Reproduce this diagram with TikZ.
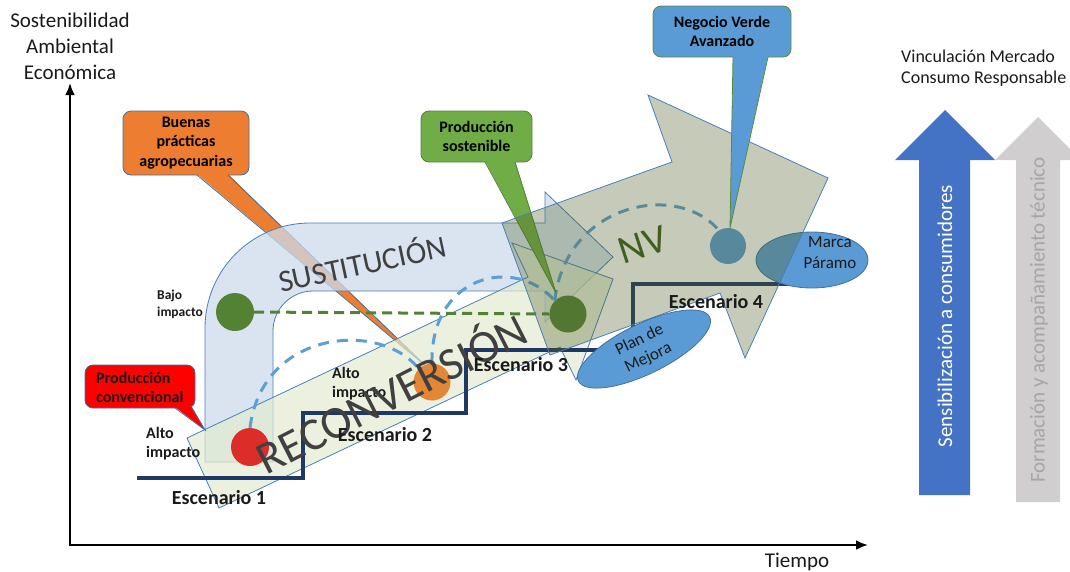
\documentclass[tikz,border=0pt]{standalone}
\usepackage{fontspec}
\setmainfont{Carlito}
\usetikzlibrary{arrows.meta,shapes.geometric}

\definecolor{navy}{RGB}{31,56,100}
\definecolor{sustfill}{RGB}{205,219,236}
\definecolor{reconfill}{RGB}{226,235,208}
\definecolor{nvfill}{RGB}{79,98,40}
\definecolor{shapeborder}{RGB}{74,126,187}
\definecolor{callborder}{RGB}{65,113,156}
\definecolor{orangeC}{RGB}{237,125,49}
\definecolor{greenC}{RGB}{112,173,71}
\definecolor{greenB}{RGB}{84,130,53}
\definecolor{blueC}{RGB}{91,155,213}
\definecolor{redC}{RGB}{255,0,0}
\definecolor{dashblue}{RGB}{91,160,213}
\definecolor{dgreen}{RGB}{84,130,53}
\definecolor{arrowblue}{RGB}{68,114,196}
\definecolor{arrowgray}{RGB}{208,206,206}
\definecolor{graytext}{RGB}{166,166,166}
\definecolor{shapetxt}{RGB}{64,64,64}
\definecolor{txtdark}{RGB}{26,26,26}
\definecolor{redcirc}{RGB}{220,45,40}
\definecolor{orcirc}{RGB}{227,135,55}
\definecolor{nvtext}{RGB}{63,95,31}

\begin{document}
\begin{tikzpicture}[x=1pt,y=-1pt,
  axisline/.style={line width=2.6pt, {Latex[length=12pt,width=10pt]}-{Latex[length=12pt,width=10pt]}},
  stair/.style={draw=navy, line width=4pt},
  bigshape/.style={draw=shapeborder, line width=0.8pt},
  dot/.style={circle, inner sep=0pt, minimum size=#1},
  dashg/.style={draw=dgreen, line width=3pt, dash pattern=on 10pt off 6pt},
  dashb/.style={draw=dashblue, line width=3pt, dash pattern=on 11pt off 8pt},
  callbox/.style={rounded corners=8pt, inner sep=0pt, align=center, line width=0.8pt, font=\fontsize{16}{19.5}\selectfont\bfseries},
  esc/.style={font=\fontsize{20}{24}\selectfont\bfseries, text=txtdark, inner sep=0pt},
  implbl/.style={font=\fontsize{16}{19}\selectfont\bfseries, text=txtdark, align=left, inner sep=0pt},
  plain/.style={inner sep=0pt, text=txtdark},
]
\useasboundingbox (0,0) rectangle (1070,571);

% ---------- axes ----------
\coordinate (ytop) at (70,83);
\coordinate (xend) at (868,545);
\draw[axisline] (ytop) |- (xend);
\node[plain, align=center, font=\fontsize{21}{26}\selectfont] (ylab) at (70,46) {Sostenibilidad\\Ambiental\\Económica};
\node[plain, font=\fontsize{21}{26}\selectfont] (xlab) at (797,562) {Tiempo};

% ---------- right arrows ----------
\fill[arrowgray] (1016,502) -- (1016,160) -- (995,160) -- (1038,117) -- (1081,160) -- (1060,160) -- (1060,502) -- cycle;
\fill[arrowblue] (919,495) -- (919,160) -- (895,160) -- (945,110) -- (995,160) -- (970,160) -- (970,495) -- cycle;
\node[inner sep=0pt, rotate=90, text=white, font=\fontsize{21}{25}\selectfont] (sens) at (945,316) {Sensibilización a consumidores};
\node[inner sep=0pt, rotate=90, text=graytext, font=\fontsize{21}{25}\selectfont] (form) at (1039,320) {Formación y acompañamiento técnico};
\node[plain, anchor=west, align=left, font=\fontsize{18}{21}\selectfont] (vinc) at (901,68) {Vinculación Mercado\\Consumo Responsable};

% ---------- callout: Buenas practicas ----------
\coordinate (bpaTip) at (428,368);
\node[callbox, fill=orangeC, draw=callborder, minimum width=126pt, minimum height=64pt] (bpa) at (186,143) {Buenas\\prácticas\\agropecuarias};
\fill[orangeC] (197,174) -- (bpaTip) -- (228,174) -- cycle;
\draw[callborder, line width=0.8pt] (197,175) -- (bpaTip) -- (228,175);

% ---------- SUSTITUCION shape ----------
\path[bigshape, fill=sustfill, fill opacity=0.75]
  (205,462) -- (205,328) .. controls (205,270) and (252,223) .. (310,223) -- (545,223) -- (545,192)
  -- (613,257) -- (545,322) -- (545,291) -- (313,291) .. controls (291,291) and (273,309) .. (273,331)
  -- (273,462) -- cycle;

% ---------- RECONVERSION shape ----------
\path[bigshape, fill=reconfill, fill opacity=0.7]
  (187,438) -- (528,277) -- (512,243) -- (613,279) -- (576,380) -- (560,347) -- (219,508) -- cycle;

% ---------- staircase ----------
\draw[stair] (137,478) -- (303,478) -- (303,413) -- (466,413) -- (466,350) -- (633,350) -- (633,284) -- (798,284);

% ---------- circles ----------
\node[dot=38pt, fill=redcirc] (red) at (250,447) {};
\node[dot=37pt, fill=orcirc] (orange) at (432,382) {};
\node[dot=38pt, fill=greenB] (bajo) at (235,312) {};
\node[dot=37pt, fill=greenB] (gtres) at (568,314) {};
\node[dot=36pt, fill=blueC] (nvc) at (728,246) {};

% ---------- dashed lines ----------
\draw[dashg] (bajo.east) -- (gtres.west);
\draw[dashb] (red.north) .. controls (262,330) and (380,320) .. (orange.north west);
\draw[dashb] (orange.north) .. controls (430,275) and (515,255) .. (gtres.north west);
\draw[dashb] (gtres.north west) .. controls (565,205) and (675,180) .. (nvc.120);

% ---------- labels ----------
\node[implbl, anchor=west, font=\fontsize{13.5}{17}\selectfont\bfseries] (bajolbl) at (157,304) {Bajo\\impacto};
\node[implbl, anchor=west] (altolbl) at (146,444) {Alto\\impacto};
\node[implbl, anchor=west] (alto2lbl) at (332,384) {Alto\\impacto};
\node[inner sep=0pt, rotate=12, text=shapetxt, font=\fontsize{31}{36}\selectfont] (sustxt) at (362,262) {SUSTITUCIÓN};
\node[inner sep=0pt, rotate=27, text=shapetxt, font=\fontsize{46}{50}\selectfont] (rectxt) at (390,391) {RECONVERSIÓN};

% ---------- callout: Produccion convencional ----------
\coordinate (pcTip) at (205,430);
\node[callbox, fill=redC, draw=callborder, minimum width=110pt, minimum height=43pt] (pcbox) at (140,386.5) {};
\fill[redC] (175,407) -- (pcTip) -- (192,407) -- cycle;
\draw[callborder, line width=0.8pt] (175,408) -- (pcTip) -- (192,408);
\node[implbl, anchor=west] (pctxt) at (96,387) {Producción\\convencional};

% ---------- callout: Produccion sostenible ----------
\coordinate (psTip) at (556,293);
\node[callbox, fill=greenC, draw=greenB, minimum width=111pt, minimum height=51pt] (ps) at (476.5,136.5) {Producción\\sostenible};
\fill[greenC] (485,161) -- (psTip) -- (515,161) -- cycle;
\draw[greenB, line width=0.8pt] (485,162) -- (psTip) -- (515,162);

% ---------- Marca Paramo ellipse (under NV) ----------
\node[ellipse, fill=blueC, draw=callborder, line width=0.8pt, minimum width=112pt, minimum height=56pt, inner sep=0pt] (marca) at (812,260) {};

% ---------- NV arrow ----------
\path[bigshape, fill=nvfill, fill opacity=0.33]
  (502,223) -- (672,162) -- (648,95) -- (828,178) -- (745,358) -- (720,293) -- (550,355) -- cycle;
\node[inner sep=0pt, rotate=18, text=nvtext, font=\fontsize{40}{44}\selectfont] (nvtxt) at (643,245) {NV};

% ---------- callout: Negocio Verde ----------
\coordinate (nvTip) at (730,228);
\node[callbox, fill=blueC, draw=greenC!80!black, minimum width=138pt, minimum height=51pt] (nvbox) at (722,31.5) {Negocio Verde\\Avanzado};
\fill[blueC] (733,56) -- (nvTip) -- (768,56) -- cycle;
\draw[greenC!80!black, line width=0.8pt] (733,57) -- (nvTip) -- (768,57);

% ---------- ellipses and texts on top ----------
\node[ellipse, rotate=26, fill=blueC, draw=callborder, line width=0.8pt, minimum width=146pt, minimum height=50pt, inner sep=0pt, align=center, text=txtdark, font=\fontsize{17}{20}\selectfont] (plan) at (644,349) {Plan de\\Mejora};
\node[plain, align=center, font=\fontsize{17}{21}\selectfont] (marcatxt) at (830,253) {Marca\\Páramo};

\node[esc] (e1) at (219,498) {Escenario 1};
\node[esc] (e2) at (385,435) {Escenario 2};
\node[esc] (e3) at (521,365) {Escenario 3};
\node[esc] (e4) at (716,302) {Escenario 4};
\end{tikzpicture}
\end{document}
